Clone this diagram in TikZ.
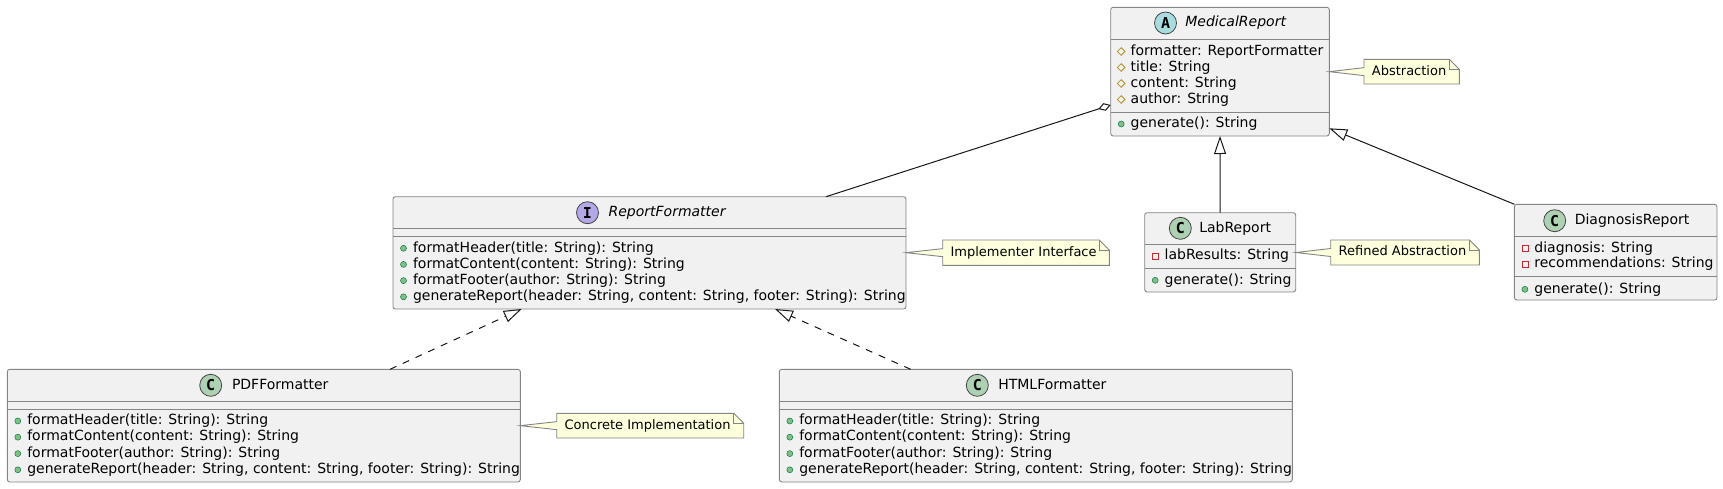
\documentclass[tikz,border=0pt]{standalone}
\usepackage{fontspec}
\setmainfont{DejaVu Sans}
\setmonofont{DejaVu Sans Mono}
\usetikzlibrary{arrows.meta,calc}
\definecolor{classbg}{HTML}{F1F1F1}
\definecolor{bordc}{HTML}{181818}
\definecolor{boxline}{HTML}{858585}
\definecolor{notebg}{HTML}{FEFFDD}
\definecolor{ccirc}{HTML}{ADD1B2}
\definecolor{icirc}{HTML}{B4A7E5}
\definecolor{acirc}{HTML}{A9DCDF}
\definecolor{pubfill}{HTML}{84BE84}
\definecolor{pubdraw}{HTML}{038048}
\definecolor{privdraw}{HTML}{C82930}
\definecolor{protdraw}{HTML}{B38D22}
\newcommand{\icpub}[2]{\draw[pubic] (#1,#2) circle (3pt);}
\newcommand{\icpriv}[2]{\draw[privic] (#1-3,#2-3) rectangle (#1+3,#2+3);}
\newcommand{\icprot}[2]{\draw[protic] (#1,#2-3.8) -- (#1+3.8,#2) -- (#1,#2+3.8) -- (#1-3.8,#2) -- cycle;}
\newcommand{\member}[5]{#2{#3+10.5}{#4}\node[memb] (#1) at (#3+20,#4) {#5};}
\begin{document}
\begin{tikzpicture}[x=1pt,y=-1pt,
  classbox/.style={draw=boxline, fill=classbg, line width=0.9pt, rounded corners=2.5pt, anchor=north west, inner sep=0pt, outer sep=0pt},
  sepl/.style={draw=boxline, line width=0.9pt},
  memb/.style={anchor=west, inner sep=0pt, outer sep=0pt, text height=10.5pt, text depth=3pt, font=\fontsize{14pt}{16pt}\selectfont, text=black},
  hcirc/.style={circle, draw=bordc!80, line width=0.8pt, minimum size=22pt, inner sep=0pt, font=\ttfamily\bfseries\fontsize{15pt}{15pt}\selectfont},
  notebody/.style={anchor=north west, inner sep=0pt, outer sep=0pt},
  notetext/.style={anchor=west, inner sep=0pt, text height=9.5pt, text depth=2.7pt, font=\fontsize{13pt}{15pt}\selectfont},
  noteline/.style={draw=boxline, fill=notebg, line width=0.9pt, line join=miter},
  foldline/.style={draw=boxline, line width=0.9pt},
  rel/.style={draw=bordc, line width=1pt},
  inh/.style={rel, -{Triangle[open, length=18pt, width=12pt]}},
  real/.style={rel, dash pattern=on 7pt off 7pt, -{Triangle[open, length=18pt, width=12pt]}},
  agg/.style={rel, -{Diamond[open, length=13pt, width=8pt]}},
  pubic/.style={draw=pubdraw, fill=pubfill, line width=0.5pt},
  privic/.style={draw=privdraw, line width=0.8pt},
  protic/.style={draw=protdraw, line width=0.8pt}
]
\fill[white] (0,0) rectangle (1723,488);
\useasboundingbox (0,0) rectangle (1723,488);

% ---------- MedicalReport ----------
\node[classbox, minimum width=218.6pt, minimum height=128.7pt] (mr) at (1110.7,7.3) {};
\draw[sepl] ([yshift=-31.7pt]mr.north west) -- ([yshift=-31.7pt]mr.north east);
\draw[sepl] ([yshift=-105pt]mr.north west) -- ([yshift=-105pt]mr.north east);
\node[hcirc, fill=acirc] (mrc) at (1165.5,23) {A};
\node[memb] (mrt) at (1185.3,23) {\itshape MedicalReport};
\member{mr1}{\icprot}{1110.7}{51.5}{formatter: ReportFormatter}
\member{mr2}{\icprot}{1110.7}{67.5}{title: String}
\member{mr3}{\icprot}{1110.7}{83.5}{content: String}
\member{mr4}{\icprot}{1110.7}{99.5}{author: String}
\member{mr5}{\icpub}{1110.7}{124}{generate(): String}

% ---------- ReportFormatter ----------
\node[classbox, minimum width=513pt, minimum height=112.3pt] (rf) at (393,196.7) {};
\draw[sepl] ([yshift=-32pt]rf.north west) -- ([yshift=-32pt]rf.north east);
\draw[sepl] ([yshift=-40pt]rf.north west) -- ([yshift=-40pt]rf.north east);
\node[hcirc, fill=icirc] (rfc) at (587.5,212.7) {I};
\node[memb] (rft) at (608.6,212.7) {\itshape ReportFormatter};
\member{rf1}{\icpub}{393}{248.3}{formatHeader(title: String): String}
\member{rf2}{\icpub}{393}{264.4}{formatContent(content: String): String}
\member{rf3}{\icpub}{393}{280.6}{formatFooter(author: String): String}
\member{rf4}{\icpub}{393}{296.8}{generateReport(header: String, content: String, footer: String): String}

% ---------- LabReport ----------
\node[classbox, minimum width=151pt, minimum height=79.3pt] (lab) at (1144.7,212.7) {};
\draw[sepl] ([yshift=-31.3pt]lab.north west) -- ([yshift=-31.3pt]lab.north east);
\draw[sepl] ([yshift=-55.6pt]lab.north west) -- ([yshift=-55.6pt]lab.north east);
\node[hcirc, fill=ccirc] (labc) at (1180.3,228.3) {C};
\node[memb] (labt) at (1199.3,228.3) {LabReport};
\member{lab1}{\icpriv}{1144.7}{256}{labResults: String}
\member{lab2}{\icpub}{1144.7}{280.3}{generate(): String}

% ---------- DiagnosisReport ----------
\node[classbox, minimum width=202.6pt, minimum height=95.7pt] (diag) at (1514.4,204.3) {};
\draw[sepl] ([yshift=-31.7pt]diag.north west) -- ([yshift=-31.7pt]diag.north east);
\draw[sepl] ([yshift=-71.7pt]diag.north west) -- ([yshift=-71.7pt]diag.north east);
\node[hcirc, fill=ccirc] (diagc) at (1554.7,220.7) {C};
\node[memb] (diagt) at (1574.8,220.7) {DiagnosisReport};
\member{dg1}{\icpriv}{1514.4}{248.3}{diagnosis: String}
\member{dg2}{\icpriv}{1514.4}{264.2}{recommendations: String}
\member{dg3}{\icpub}{1514.4}{289.3}{generate(): String}

% ---------- PDFFormatter ----------
\node[classbox, minimum width=513pt, minimum height=112.7pt] (pdf) at (7.3,369.3) {};
\draw[sepl] ([yshift=-32pt]pdf.north west) -- ([yshift=-32pt]pdf.north east);
\draw[sepl] ([yshift=-40pt]pdf.north west) -- ([yshift=-40pt]pdf.north east);
\node[hcirc, fill=ccirc] (pdfc) at (210.7,385.3) {C};
\node[memb] (pdft) at (232,385.3) {PDFFormatter};
\member{pd1}{\icpub}{7.3}{421}{formatHeader(title: String): String}
\member{pd2}{\icpub}{7.3}{437.2}{formatContent(content: String): String}
\member{pd3}{\icpub}{7.3}{453.6}{formatFooter(author: String): String}
\member{pd4}{\icpub}{7.3}{469.8}{generateReport(header: String, content: String, footer: String): String}

% ---------- HTMLFormatter ----------
\node[classbox, minimum width=513pt, minimum height=112.7pt] (html) at (779.3,369.3) {};
\draw[sepl] ([yshift=-32pt]html.north west) -- ([yshift=-32pt]html.north east);
\draw[sepl] ([yshift=-40pt]html.north west) -- ([yshift=-40pt]html.north east);
\node[hcirc, fill=ccirc] (htmlc) at (977.3,385.3) {C};
\node[memb] (htmlt) at (998.3,385.3) {HTMLFormatter};
\member{ht1}{\icpub}{779.3}{421}{formatHeader(title: String): String}
\member{ht2}{\icpub}{779.3}{437.2}{formatContent(content: String): String}
\member{ht3}{\icpub}{779.3}{453.6}{formatFooter(author: String): String}
\member{ht4}{\icpub}{779.3}{469.8}{generateReport(header: String, content: String, footer: String): String}

% ---------- Relations ----------
\draw[agg] ([xshift=433pt]rf.north west) -- ([yshift=-97.7pt]mr.north west);
\draw[inh] (lab.north) -- (mr.south);
\draw[inh] (diag.north west) -- ([yshift=-121pt]mr.north east);
\draw[real] ([xshift=382.7pt]pdf.north west) -- ([xshift=128.7pt]rf.south west);
\draw[real] ([xshift=131.4pt]html.north west) -- ([xshift=382pt]rf.south west);

% ---------- Notes ----------
\node[notebody, minimum width=95.3pt, minimum height=24.7pt] (n1) at (1364,59.3) {};
\draw[noteline] (n1.north west) -- ([xshift=-10pt]n1.north east) -- ([yshift=-10pt]n1.north east) -- (n1.south east) -- (n1.south west) -- ([yshift=-4pt]n1.west) -- (mr.east |- n1.west) -- ([yshift=4pt]n1.west) -- cycle;
\draw[foldline] ([xshift=-10pt]n1.north east) -- ([xshift=-10pt,yshift=-10pt]n1.north east) -- ([yshift=-10pt]n1.north east);
\node[notetext] (n1t) at ([xshift=7.7pt]n1.west) {Abstraction};

\node[notebody, minimum width=166.6pt, minimum height=25.3pt] (n2) at (942.7,240) {};
\draw[noteline] (n2.north west) -- ([xshift=-10pt]n2.north east) -- ([yshift=-10pt]n2.north east) -- (n2.south east) -- (n2.south west) -- ([yshift=-4pt]n2.west) -- (rf.east |- n2.west) -- ([yshift=4pt]n2.west) -- cycle;
\draw[foldline] ([xshift=-10pt]n2.north east) -- ([xshift=-10pt,yshift=-10pt]n2.north east) -- ([yshift=-10pt]n2.north east);
\node[notetext] (n2t) at ([xshift=7.7pt]n2.west) {Implementer Interface};

\node[notebody, minimum width=148.7pt, minimum height=25pt] (n3) at (1330.7,240) {};
\draw[noteline] (n3.north west) -- ([xshift=-10pt]n3.north east) -- ([yshift=-10pt]n3.north east) -- (n3.south east) -- (n3.south west) -- ([yshift=-4pt]n3.west) -- (lab.east |- n3.west) -- ([yshift=4pt]n3.west) -- cycle;
\draw[foldline] ([xshift=-10pt]n3.north east) -- ([xshift=-10pt,yshift=-10pt]n3.north east) -- ([yshift=-10pt]n3.north east);
\node[notetext] (n3t) at ([xshift=7.7pt]n3.west) {Refined Abstraction};

\node[notebody, minimum width=187pt, minimum height=24.7pt] (n4) at (556.7,413.3) {};
\draw[noteline] (n4.north west) -- ([xshift=-10pt]n4.north east) -- ([yshift=-10pt]n4.north east) -- (n4.south east) -- (n4.south west) -- ([yshift=-4pt]n4.west) -- (pdf.east |- n4.west) -- ([yshift=4pt]n4.west) -- cycle;
\draw[foldline] ([xshift=-10pt]n4.north east) -- ([xshift=-10pt,yshift=-10pt]n4.north east) -- ([yshift=-10pt]n4.north east);
\node[notetext] (n4t) at ([xshift=7.7pt]n4.west) {Concrete Implementation};
\end{tikzpicture}
\end{document}
